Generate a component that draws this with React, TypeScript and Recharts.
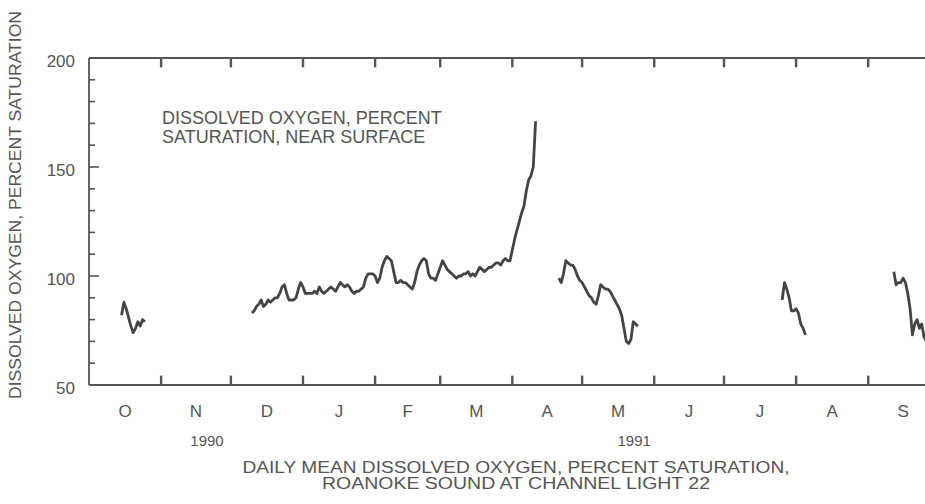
import React from 'react';
import { LineChart, Line, XAxis, YAxis, ReferenceLine } from 'recharts';

// ---- data (day 0 = 1 Oct 1990) ----
const monthStarts = [0, 31, 61, 92, 123, 151, 182, 212, 243, 273, 304, 335, 365];
const monthLabels = ['O', 'N', 'D', 'J', 'F', 'M', 'A', 'M', 'J', 'J', 'A', 'S'];
const yearLabelMonth = [1, 7];
const yearLabels = ['1990', '1991'];
const yearLabelShift = [11, 16];
const yTicks = [50, 60, 70, 80, 90, 100, 110, 120, 130, 140, 150, 160, 170, 180, 190, 200];
const yLabelTicks = [50, 100, 150, 200];

const octStart = 14;
const octValues = [82, 88, 85, 81, 77, 74, 76, 79, 77, 80, 79];

const winterStart = 70;
const winterValues = [
  83, 84, 86, 87, 89, 86, 87, 89, 88, 89,
  90, 90, 92, 95, 96, 92, 89, 89, 89, 90,
  94, 97, 95, 92, 92, 92, 92, 93, 92, 95,
  93, 92, 93, 94, 95, 94, 93, 95, 97, 96,
  95, 96, 95, 93, 92, 93, 93, 94, 95, 99,
  101, 101, 101, 100, 97, 99, 104, 107, 109, 108,
  107, 102, 97, 97, 98, 97, 97, 96, 95, 94,
  97, 102, 105, 107, 108, 107, 101, 99, 99, 98,
  101, 104, 107, 105, 103, 102, 101, 100, 99, 100,
  100, 101, 101, 102, 100, 101, 100, 102, 104, 103,
  102, 103, 104, 104, 105, 106, 106, 105, 107, 108,
  107, 107, 112, 117, 121, 125, 129, 132, 139, 144,
  146, 150, 171,
];

const springStart = 202;
const springValues = [
  99, 97, 101, 107, 106, 105, 105, 103, 100, 98,
  97, 95, 93, 91, 90, 88, 87, 91, 96, 95,
  94, 94, 93, 91, 89, 87, 85, 82, 76, 70,
  69, 71, 79, 78, 77,
];

const julyStart = 298;
const julyValues = [89, 97, 94, 90, 84, 84, 85, 83, 78, 76, 73];

const septStart = 346;
const septValues = [102, 96, 97, 97, 99, 97, 92, 85, 73, 78, 80, 76, 78, 72, 70];

// ---- build table ----
const segments = [
  { start: octStart, values: octValues },
  { start: winterStart, values: winterValues },
  { start: springStart, values: springValues },
  { start: julyStart, values: julyValues },
  { start: septStart, values: septValues },
];
const data: { day: number; v: number | null }[] = [];
segments.forEach((s) => {
  s.values.forEach((v, j) => data.push({ day: s.start + j, v }));
  data.push({ day: s.start + s.values.length - 0.5, v: null });
});

const monthBoundaries = monthStarts.slice(1, -1);
const monthCenters = monthLabels.map((_, i) => (monthStarts[i] + monthStarts[i + 1]) / 2);
const Y_MIN = 50;
const Y_MAX = 200;
const X_TICK_LEN = 4.3; // in data units of the y axis

// ---- styles ----
const FONT = '"Liberation Sans", Arial, Helvetica, sans-serif';
const TEXT = '#555555';
const AXIS = '#555555';
const LINE = '#444444';

function MonthTick(props: any) {
  const { x, y, payload } = props;
  const i = monthCenters.indexOf(payload.value);
  const yi = yearLabelMonth.indexOf(i);
  return (
    <g>
      <text x={x} y={y + 31} textAnchor="middle" fontFamily={FONT} fontSize={17} fill={TEXT}>
        {monthLabels[i]}
      </text>
      {yi >= 0 && (
        <text
          x={x + yearLabelShift[yi]}
          y={y + 60}
          textAnchor="middle"
          fontFamily={FONT}
          fontSize={15}
          fill={TEXT}
        >
          {yearLabels[yi]}
        </text>
      )}
    </g>
  );
}
function YTick(props: any) {
  const { x, y, payload } = props;
  const major = yLabelTicks.includes(payload.value);
  return (
    <g>
      {payload.value !== Y_MIN && payload.value !== Y_MAX && (
        <line x1={x} x2={x + (major ? 10 : 6)} y1={y} y2={y} stroke={AXIS} strokeWidth={1.6} />
      )}
      {major && (
        <text x={x - 14} y={y + 8.5} textAnchor="end" fontFamily={FONT} fontSize={17} fill={TEXT}>
          {payload.value}
        </text>
      )}
    </g>
  );
}

export default function App() {
  return (
    <div
      style={{
        position: 'fixed',
        left: 0,
        top: 0,
        width: 925,
        height: 504,
        overflow: 'hidden',
        background: '#ffffff',
      }}
    >
      <LineChart
        width={960}
        height={504}
        data={data}
        margin={{ top: 57, left: 88, right: 22, bottom: 117 }}
      >
        <XAxis
          xAxisId="b"
          dataKey="day"
          type="number"
          domain={[0, 365]}
          allowDataOverflow
          ticks={monthBoundaries}
          interval={0}
          height={1}
          tickSize={0}
          tickMargin={0}
          tickLine={false}
          axisLine={{ stroke: AXIS, strokeWidth: 1.8 }}
          tick={false}
        />
        <XAxis
          xAxisId="m"
          dataKey="day"
          type="number"
          domain={[0, 365]}
          allowDataOverflow
          ticks={monthCenters}
          interval={0}
          height={1}
          tickSize={0}
          tickMargin={0}
          tickLine={false}
          axisLine={false}
          tick={<MonthTick />}
        />
        <XAxis
          xAxisId="t"
          dataKey="day"
          orientation="top"
          type="number"
          domain={[0, 365]}
          allowDataOverflow
          ticks={monthBoundaries}
          interval={0}
          height={1}
          tickSize={0}
          tickMargin={0}
          tickLine={false}
          axisLine={{ stroke: AXIS, strokeWidth: 1.8 }}
          tick={false}
        />
        <YAxis
          yAxisId="l"
          dataKey="v"
          type="number"
          domain={[Y_MIN, Y_MAX]}
          allowDataOverflow
          ticks={yTicks}
          interval={0}
          width={1}
          tickSize={0}
          tickMargin={0}
          tickLine={false}
          axisLine={{ stroke: AXIS, strokeWidth: 1.8 }}
          tick={<YTick />}
        />
        {monthBoundaries.map((d) => (
          <ReferenceLine
            key={`b${d}`}
            xAxisId="b"
            yAxisId="l"
            segment={[
              { x: d, y: Y_MIN },
              { x: d, y: Y_MIN + X_TICK_LEN },
            ]}
            stroke={AXIS}
            strokeWidth={2.4}
          />
        ))}
        {monthBoundaries.map((d) => (
          <ReferenceLine
            key={`t${d}`}
            xAxisId="b"
            yAxisId="l"
            segment={[
              { x: d, y: Y_MAX },
              { x: d, y: Y_MAX - X_TICK_LEN },
            ]}
            stroke={AXIS}
            strokeWidth={2.4}
          />
        ))}
        <Line
          xAxisId="b"
          yAxisId="l"
          dataKey="v"
          type="linear"
          stroke={LINE}
          strokeWidth={2.8}
          strokeLinejoin="round"
          dot={false}
          activeDot={false}
          connectNulls={false}
          isAnimationActive={false}
        />
      </LineChart>
      <svg
        width={925}
        height={504}
        style={{ position: 'absolute', left: 0, top: 0, pointerEvents: 'none' }}
      >
        <text
          transform="translate(21,205) rotate(-90)"
          textAnchor="middle"
          fontFamily={FONT}
          fontSize={17}
          fill={TEXT}
          textLength={388}
          lengthAdjust="spacingAndGlyphs"
        >
          DISSOLVED OXYGEN, PERCENT SATURATION
        </text>
        <text x={162} y={124} fontFamily={FONT} fontSize={18} fill={TEXT}>
          DISSOLVED OXYGEN, PERCENT
        </text>
        <text x={162} y={143} fontFamily={FONT} fontSize={18} fill={TEXT}>
          SATURATION, NEAR SURFACE
        </text>
        <text
          x={516}
          y={473}
          textAnchor="middle"
          fontFamily={FONT}
          fontSize={16}
          fill={TEXT}
          textLength={547}
          lengthAdjust="spacingAndGlyphs"
        >
          DAILY MEAN DISSOLVED OXYGEN, PERCENT SATURATION,
        </text>
        <text
          x={516}
          y={489}
          textAnchor="middle"
          fontFamily={FONT}
          fontSize={16}
          fill={TEXT}
          textLength={388}
          lengthAdjust="spacingAndGlyphs"
        >
          ROANOKE SOUND AT CHANNEL LIGHT 22
        </text>
      </svg>
    </div>
  );
}
